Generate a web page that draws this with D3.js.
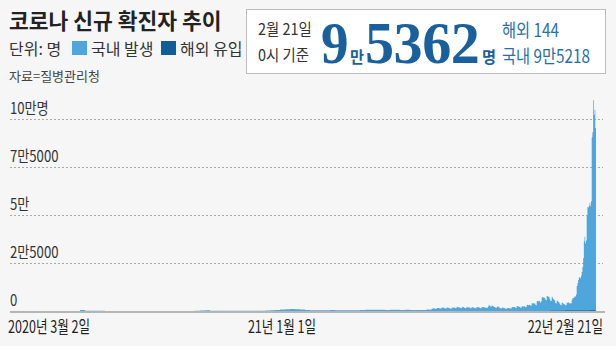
<!DOCTYPE html>
<html>
<head>
<meta charset="utf-8">
<script src="https://cdn.jsdelivr.net/npm/d3@7"></script>
<style>
  html, body { margin: 0; padding: 0; background: #f6f6f6; }
  svg { display: block; font-family: "Noto Sans CJK KR", "Noto Sans", sans-serif; }
</style>
</head>
<body>
<svg id="chart" width="616" height="346"></svg>
<script>
// weekly averages (per day), weeks starting Monday 2020-03-02 .. 2021-06-21
const weeklyTotal = [
  515, 147, 105, 98, 93, 39, 21, 10, 9, 12, 25, 20, 40,
  44, 44, 48, 42, 52, 49, 48, 56, 32, 32, 127, 307, 326,
  193, 141, 109, 88, 72, 77, 83, 97, 114, 113, 160, 313, 444,
  540, 749, 968, 1054, 912, 775, 527, 393, 446, 385, 378, 493, 386,
  402, 452, 433, 443, 504, 612, 652, 669, 622, 581, 623, 608, 569,
  606, 532, 492, 560
];
// daily totals from 2021-06-28 .. 2022-02-21
const dailyTotal = [
  501, 595, 794,
  762, 826, 794, 743, 711, 746, 1212, 1275, 1316, 1378, 1324, 1100, 1150, 1615, 1600, 1536,
  1455, 1454, 1252, 1278, 1784, 1842, 1630, 1629, 1487, 1318, 1365, 1896, 1674, 1710, 1539,
  1442, 1219, 1202, 1725, 1775, 1704, 1823, 1728, 1492, 1537, 2223, 1987, 1990, 1930, 1817,
  1556, 1372, 1805, 2152, 2052, 1880, 1626, 1418, 1509, 2155, 2004, 1882, 1840, 1791, 1486, 1373,
  2025, 1961, 1709, 1804, 1490, 1375, 1597, 2050, 2049, 1892, 1865, 1755, 1433, 1497, 2080,
  2008, 2087, 2008, 1909, 1605, 1729, 1720, 1716, 2434, 3273, 2771, 2383, 2289, 2885, 2564,
  2486, 2086, 2085, 1673, 1575, 2028, 2427, 2176, 1953, 1594, 1297, 1347, 1583, 1939, 1684,
  1618, 1420, 1050, 1073, 1571, 1441, 1439, 1508, 1423, 1266, 1266, 1952, 2111, 2124, 2104, 2061,
  1686, 1589, 2667, 2482, 2344, 2248, 2224, 1758, 1715, 2425, 2520, 2368, 2324, 2419, 2006,
  2125, 3187, 3292, 3034, 3206, 3120, 2827, 2699, 4116, 3938, 3901, 4068, 3928, 3309, 3032,
  5123, 5266, 4944, 5352, 5128, 4325, 4954, 7175, 7102, 7022, 6977, 6689, 5817, 5567, 7850,
  7622, 7435, 7314, 6236, 5318, 5202, 7456, 6919, 6233, 5842, 5419, 4207, 3865, 5409, 5037, 4875,
  4416, 3833, 3129, 3022, 4444, 4126, 3714, 3511, 3376, 3005, 3094, 4388, 4167, 4538, 4193,
  3859, 4071, 4070, 5804, 6601, 6767, 7008, 7628, 7512, 8570, 13009, 14516, 16093, 17511, 17528, 17078,
  18341, 20269, 22906, 27438, 36356, 38689, 35283, 36717, 49566, 54120, 53920, 54940, 56431,
  54619, 57175, 90441, 93131, 109822, 102208, 104828, 95362
];
// weekly averages of overseas-origin cases, weeks from 2020-03-02 .. 2022-02-21
const weeklyOverseas = [
  5, 8, 20, 45, 40, 20, 10, 5, 4, 3, 4, 5, 7, 6, 6, 12, 15, 20, 25, 22, 35, 18,
  13, 10, 12, 13, 9, 7, 10, 11, 12, 15, 15, 18, 15, 25, 25, 25, 20, 20, 25, 30, 35, 30,
  30, 25, 22, 22, 18, 15, 15, 20, 20, 22, 22, 22, 25, 25, 22, 25, 20, 20, 22, 22, 25,
  25, 25, 25, 35,
  40, 45, 55, 60, 55, 45, 50, 50, 45, 40, 30, 30, 30, 30, 30, 30, 25, 25,
  25, 25, 25, 30, 45, 55, 65, 90, 110, 150, 300, 320, 280, 250, 300, 400, 144
];
const yTicks = [0, 25000, 50000, 75000, 100000];
const yTickLabels = ["0", "2만5000", "5만", "7만5000", "10만명"];
const xLabels = ["2020년 3월 2일", "21년 1월 1일", "22년 2월 21일"];
const legendItems = [
  { label: "국내 발생", color: "#4fa6dd" },
  { label: "해외 유입", color: "#0d5d98" }
];

const parse = d3.utcParse("%Y-%m-%d");
const startDate = parse("2020-03-02");
const dailyStart = parse("2021-06-28");
const endDate = parse("2022-02-22");

const totalPoints = [];
weeklyTotal.forEach((v, i) => totalPoints.push({ date: d3.utcDay.offset(startDate, i * 7), value: v }));
dailyTotal.forEach((v, i) => totalPoints.push({ date: d3.utcDay.offset(dailyStart, i), value: v }));
totalPoints.push({ date: endDate, value: dailyTotal[dailyTotal.length - 1] });

const overseasPoints = weeklyOverseas.map((v, i) => ({ date: d3.utcDay.offset(startDate, i * 7), value: v }));
overseasPoints.push({ date: endDate, value: weeklyOverseas[weeklyOverseas.length - 1] });

const svg = d3.select("#chart");

const x = d3.scaleUtc().domain([startDate, endDate]).range([80, 596]);
const y = d3.scaleLinear().domain([0, 100000]).range([311, 119]);

// condensed text helper
const ctext = (sel, tx, ty, sx) =>
  sel.append("text").attr("transform", `translate(${tx},${ty}) scale(${sx},1)`);

// title + legend
svg.append("text")
  .attr("x", 9).attr("y", 29)
  .attr("font-size", 21.5).attr("font-weight", "bold").attr("fill", "#222")
  .text("코로나 신규 확진자 추이");

svg.append("text")
  .attr("x", 9).attr("y", 55)
  .attr("font-size", 16).attr("fill", "#333")
  .text("단위: 명");

const leg = svg.append("g");
const legX = [72, 161];
legendItems.forEach((d, i) => {
  leg.append("rect").attr("x", legX[i]).attr("y", 41).attr("width", 15).attr("height", 14).attr("fill", d.color);
  leg.append("text").attr("x", legX[i] + 19).attr("y", 55)
    .attr("font-size", 16).attr("fill", "#333").text(d.label);
});

svg.append("text")
  .attr("x", 9).attr("y", 81)
  .attr("font-size", 13).attr("fill", "#444")
  .text("자료=질병관리청");

// summary box
svg.append("rect")
  .attr("x", 246.5).attr("y", 9.5).attr("width", 359).attr("height", 64)
  .attr("fill", "#fff").attr("stroke", "#bdbdbd");

const box = svg.append("g").attr("fill", "#333");
ctext(box, 258, 35, 0.9).attr("font-size", 16).text("2월 21일");
ctext(box, 258, 61, 0.9).attr("font-size", 16).text("0시 기준");

const big = svg.append("g").attr("fill", "#19609c");
ctext(big, 321, 63, 0.92).attr("font-family", "Liberation Serif, serif").attr("font-weight", "bold")
  .attr("font-size", 60).text("9");
ctext(big, 350, 63, 0.95).attr("font-size", 16).attr("font-weight", "bold").text("만");
ctext(big, 365, 63, 0.97).attr("font-family", "Liberation Serif, serif").attr("font-weight", "bold")
  .attr("font-size", 60).attr("letter-spacing", -0.5).text("5362");
ctext(big, 482, 63, 0.95).attr("font-size", 16).attr("font-weight", "bold").text("명");

const side = svg.append("g").attr("fill", "#2a6ea8");
ctext(side, 502, 37, 0.85).attr("font-size", 18).text("해외 144");
ctext(side, 502, 63, 0.85).attr("font-size", 18).text("국내 9만5218");

// grid
const grid = svg.append("g");
grid.selectAll("line")
  .data(yTicks.filter(d => d > 0))
  .join("line")
  .attr("x1", 10).attr("x2", 603)
  .attr("y1", d => Math.round(y(d)) + 0.5).attr("y2", d => Math.round(y(d)) + 0.5)
  .attr("stroke", "#a8a8a8").attr("stroke-width", 1).attr("stroke-dasharray", "2,2");

const yl = svg.append("g").attr("fill", "#333");
yTicks.forEach((t, i) => {
  ctext(yl, 10, y(t) - 5, 0.82).attr("font-size", 16).text(yTickLabels[i]);
});

// areas
const area = d3.area()
  .x(d => x(d.date))
  .y0(y(0))
  .y1(d => y(d.value))
  .curve(d3.curveStepAfter);

svg.append("path")
  .datum(totalPoints)
  .attr("fill", legendItems[0].color)
  .attr("d", area);

svg.append("path")
  .datum(overseasPoints)
  .attr("fill", legendItems[1].color)
  .attr("d", area);

// baseline
svg.append("line")
  .attr("x1", 10).attr("x2", 605)
  .attr("y1", 312).attr("y2", 312)
  .attr("stroke", "#b5b5b5").attr("stroke-width", 2);

// x labels
const xl = svg.append("g").attr("fill", "#222").attr("font-size", 17);
ctext(xl, 8, 333, 0.74).attr("text-anchor", "start").text(xLabels[0]);
ctext(xl, 282, 333, 0.74).attr("text-anchor", "middle").text(xLabels[1]);
ctext(xl, 603, 333, 0.74).attr("text-anchor", "end").text(xLabels[2]);
</script>
</body>
</html>
